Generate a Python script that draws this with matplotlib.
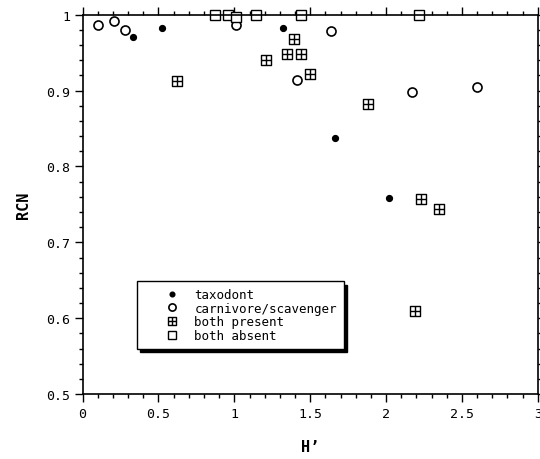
import numpy as np
import matplotlib
matplotlib.use("Agg")
import matplotlib.pyplot as plt
from matplotlib.path import Path
from matplotlib.ticker import MultipleLocator, FuncFormatter

plt.rcParams['font.family'] = ['DejaVu Sans Mono']

# values
taxo_x = [0.33, 0.52, 1.32, 1.66, 2.02]
taxo_y = [0.970, 0.983, 0.983, 0.837, 0.759]

carn_x = [0.10, 0.21, 0.28, 1.01, 1.01, 1.41, 1.64, 2.17, 2.60]
carn_y = [0.986, 0.991, 0.980, 0.993, 0.987, 0.914, 0.979, 0.898, 0.905]

pres_x = [0.62, 1.21, 1.39, 1.35, 1.44, 1.50, 1.88, 2.23, 2.35, 2.19]
pres_y = [0.913, 0.940, 0.968, 0.948, 0.948, 0.922, 0.882, 0.757, 0.744, 0.610]

abs_x = [0.87, 0.96, 1.01, 1.14, 1.44, 2.22]
abs_y = [1.0, 1.0, 0.997, 1.0, 1.0, 1.0]

# square with a cross inside
box_cross = Path(
    [(-1, -1), (1, -1), (1, 1), (-1, 1), (-1, -1), (0, -1), (0, 1), (-1, 0), (1, 0)],
    [Path.MOVETO, Path.LINETO, Path.LINETO, Path.LINETO, Path.CLOSEPOLY,
     Path.MOVETO, Path.LINETO, Path.MOVETO, Path.LINETO])

fig = plt.figure(figsize=(5.4, 4.6), dpi=100)
ax = fig.add_axes([0.153, 0.141, 0.843, 0.825])

ax.plot(taxo_x, taxo_y, ls='none', marker='o', ms=4.2, mfc='black', mec='black',
        clip_on=False, label='taxodont')
ax.plot(carn_x, carn_y, ls='none', marker='o', ms=6.5, mfc='white', mec='black',
        mew=1.2, clip_on=False, label='carnivore/scavenger')
ax.plot(pres_x, pres_y, ls='none', marker=box_cross, ms=6.5, mfc='white', mec='black',
        mew=1.0, clip_on=False, label='both present')
ax.plot(abs_x, abs_y, ls='none', marker='s', ms=6.5, mfc='white', mec='black',
        mew=1.0, clip_on=False, label='both absent')

ax.set_xlim(0, 3)
ax.set_ylim(0.5, 1)
ax.xaxis.set_major_locator(MultipleLocator(0.5))
ax.xaxis.set_minor_locator(MultipleLocator(0.1))
ax.yaxis.set_major_locator(MultipleLocator(0.1))
ax.yaxis.set_minor_locator(MultipleLocator(0.02))
fmt = FuncFormatter(lambda v, p: '{:g}'.format(round(v, 2)))
ax.xaxis.set_major_formatter(fmt)
ax.yaxis.set_major_formatter(fmt)

ax.tick_params(which='both', direction='out', top=True, right=True, width=1.0,
               labelsize=9.5)
ax.tick_params(which='major', length=5.5)
ax.tick_params(which='minor', length=3)
for s in ax.spines.values():
    s.set_linewidth(1.2)

ax.set_xlabel('H’', fontsize=11, fontweight='bold', labelpad=14)
ax.set_ylabel('RCN', fontsize=11, fontweight='bold', labelpad=11)

leg = ax.legend(loc='lower left', bbox_to_anchor=(0.119, 0.119), borderaxespad=0,
                fontsize=9, frameon=True, fancybox=False,
                shadow={'color': 'black', 'alpha': 1, 'ox': 2.5, 'oy': -2.5},
                labelspacing=0.05, handletextpad=-0.55, borderpad=0.55,
                handlelength=4.6, markerscale=0.8,
                edgecolor='black', framealpha=1)
leg.get_frame().set_linewidth(1.0)

fig.savefig('out.png', dpi=100)
